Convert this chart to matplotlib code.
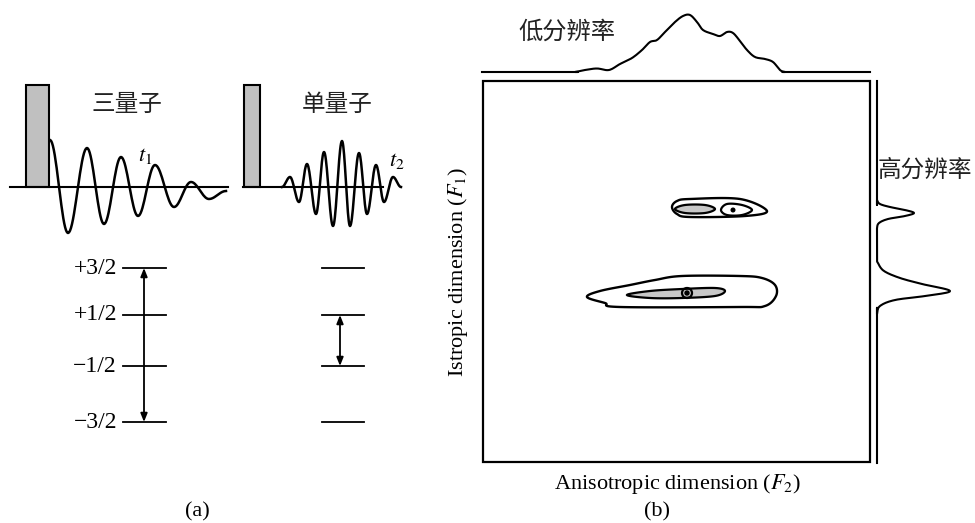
import numpy as np
import matplotlib
matplotlib.use('Agg')
import matplotlib.pyplot as plt
from matplotlib.patches import Rectangle, Polygon, Circle

plt.rcParams['mathtext.fontset'] = 'stix'
serif = ['Liberation Serif', 'DejaVu Serif']
cjk = ['Noto Sans CJK SC', 'DejaVu Sans']

#### Data (pixel coords, y down)

# pulses (x0, x1) and their top
pulse_x = [(26, 49), (244, 260)]
pulse_top = 85
base_y = 187

# FID extrema, triple quantum (t1)
fid1_x = [50, 68, 87, 104, 121, 138, 155, 174, 191, 209, 226]
fid1_y = [140, 233, 148, 224, 157, 216, 165, 207, 182, 199, 191]
# FID extrema, single quantum (t2)
fid2_x = [282, 290, 299, 307, 316, 324, 333, 342, 350, 359, 367, 376, 384, 393, 401]
fid2_y = [187, 177, 202, 164, 214, 152, 226, 141, 226, 153, 214, 165, 202, 177, 187]

# energy levels
level_labels = ['+3/2', '+1/2', '\u22121/2', '\u22123/2']
level_y = [268, 315, 366, 422]
arrow_left = (144, 268, 422)
arrow_right = (340, 315, 366)

# projection on top (low resolution)
top_x = [482, 570, 575, 585, 597, 609, 620, 632, 642, 650, 657, 665, 675, 683, 690, 697,
         703, 713, 720, 727, 733, 740, 747, 755, 765, 773, 780, 785, 790, 870]
top_y = [72, 72, 72, 70, 68.5, 70, 64, 58, 50, 42, 40, 32, 22, 16, 15, 22,
         30, 34, 36, 32, 33, 41, 50, 57, 59, 62, 70, 72, 72, 72]

# projection on the right (high resolution)
right_y = [81, 195, 200, 204, 207, 210, 213, 216, 219, 223, 228, 233,
           258, 263, 271, 278, 284, 291, 296, 300, 306, 314, 320, 463]
right_x = [877, 877, 877, 880, 890, 905, 914, 905, 888, 879, 877, 877,
           877, 878, 884, 900, 922, 950, 925, 895, 880, 877, 877, 877]

# contour outlines
up_outer = [(672, 207), (677, 201), (690, 199), (740, 199), (767, 211),
            (745, 216), (690, 217), (677, 214)]
up_gray = [(675, 209), (685, 205), (705, 205), (715, 209), (705, 213), (685, 213)]
up_inner = [(721, 210), (727, 204), (742, 205), (752, 210), (742, 215), (727, 215)]
low_outer = [(587, 297), (600, 291), (630, 285), (655, 280), (682, 276), (740, 276),
             (762, 278), (775, 285), (776, 296), (765, 306), (740, 307), (620, 307), (605, 303)]
low_gray = [(627, 295), (650, 291), (682, 289), (715, 288), (725, 291), (715, 296),
            (682, 298), (650, 298)]

box = (483, 81, 870, 462)


def wave(xs, ys, n=20):
	# join extrema by half-cosine segments
	X, Y = [], []
	for i in range(len(xs) - 1):
		t = np.linspace(0, 1, n)
		X += list(xs[i] + (xs[i + 1] - xs[i]) * t)
		Y += list(ys[i] + (ys[i + 1] - ys[i]) * (1 - np.cos(np.pi * t)) / 2)
	return X, Y


def cr(p0, p1, p2, p3, t):
	return 0.5 * ((2 * p1) + (-p0 + p2) * t + (2 * p0 - 5 * p1 + 4 * p2 - p3) * t ** 2
	              + (-p0 + 3 * p1 - 3 * p2 + p3) * t ** 3)


def closed_spline(pts, n=16):
	# closed catmull-rom through the traced points
	P = np.array(pts, dtype=float)
	m = len(P)
	out = []
	for i in range(m):
		for t in np.linspace(0, 1, n, endpoint=False):
			out.append(cr(P[i - 1], P[i], P[(i + 1) % m], P[(i + 2) % m], t))
	return np.array(out)


def open_spline(xs, ys, n=10):
	P = np.column_stack([xs, ys]).astype(float)
	P = np.vstack([P[0], P, P[-1]])
	out = []
	for i in range(1, len(P) - 2):
		for t in np.linspace(0, 1, n, endpoint=False):
			out.append(cr(P[i - 1], P[i], P[i + 1], P[i + 2], t))
	out.append(P[-1])
	out = np.array(out)
	return out[:, 0], out[:, 1]


fig = plt.figure(figsize=(9.75, 5.23), dpi=100)
ax = fig.add_axes([0, 0, 1, 1])
ax.set_xlim(0, 975)
ax.set_ylim(523, 0)
ax.axis('off')

#### (a) pulse sequence
ax.plot([10, 228], [base_y, base_y], color='black', lw=1.5)
ax.plot([243, 383], [base_y, base_y], color='black', lw=1.5)
for x0, x1 in pulse_x:
	ax.add_patch(Rectangle((x0, pulse_top), x1 - x0, base_y - pulse_top,
	                       facecolor='#c0c0c0', edgecolor='black', lw=1.5))
X, Y = wave(fid1_x, fid1_y)
ax.plot(X, Y, color='black', lw=1.8)
X, Y = wave(fid2_x, fid2_y)
ax.plot(X, Y, color='black', lw=1.8)

ax.text(127, 104, '三量子', family=cjk, fontsize=17, ha='center', va='center', color='#222222')
ax.text(337, 104, '单量子', family=cjk, fontsize=17, ha='center', va='center', color='#222222')
ax.text(145, 156, '$t_1$', fontsize=16, ha='center', va='center')
ax.text(397, 161, '$t_2$', fontsize=16, ha='center', va='center')

for lab, y in zip(level_labels, level_y):
	ax.plot([123, 166], [y, y], color='black', lw=1.3)
	ax.plot([322, 364], [y, y], color='black', lw=1.3)
	ax.text(117, y, lab, family=serif, fontsize=17, ha='right', va='center')

for x, y0, y1 in [arrow_left, arrow_right]:
	ax.annotate('', xy=(x, y1), xytext=(x, y0),
	            arrowprops=dict(arrowstyle='<|-|>,head_length=0.5,head_width=0.2',
	                            color='black', lw=1.3, shrinkA=0, shrinkB=0))

ax.text(197, 512, '(a)', family=serif, fontsize=16, ha='center', va='center')

#### (b) 2D map
x0, y0, x1, y1 = box
ax.add_patch(Rectangle((x0, y0), x1 - x0, y1 - y0, fill=False, edgecolor='black', lw=1.6))
X, Y = open_spline(top_x, top_y)
ax.plot(X, np.minimum(Y, 72), color='black', lw=1.5)
X, Y = open_spline(right_x, right_y)
ax.plot(np.maximum(X, 877), Y, color='black', lw=1.5)

for pts in [up_outer, low_outer]:
	ax.add_patch(Polygon(closed_spline(pts), closed=True, fill=False, edgecolor='black', lw=1.7))
for pts in [up_gray, low_gray]:
	ax.add_patch(Polygon(closed_spline(pts), closed=True, facecolor='#c8c8c8', edgecolor='black', lw=1.6))
ax.add_patch(Polygon(closed_spline(up_inner), closed=True, fill=False, edgecolor='black', lw=1.6))
ax.add_patch(Circle((733, 210), 1.8, color='black'))
ax.add_patch(Circle((687, 293), 5, fill=False, edgecolor='black', lw=1.6))
ax.add_patch(Circle((687, 293), 2, color='black'))

ax.text(567, 32, '低分辨率', family=cjk, fontsize=17.5, ha='center', va='center', color='#222222')
ax.text(972, 170, '高分辨率', family=cjk, fontsize=17, ha='right', va='center', color='#222222')
ax.text(678, 484, 'Anisotropic dimension ($F_2$)', family=serif, fontsize=16, ha='center', va='center')
ax.text(458, 272, 'Istropic dimension ($F_1$)', family=serif, fontsize=16, ha='center', va='center',
        rotation=90)
ax.text(657, 512, '(b)', family=serif, fontsize=16, ha='center', va='center')

fig.savefig('out.png', dpi=100)
